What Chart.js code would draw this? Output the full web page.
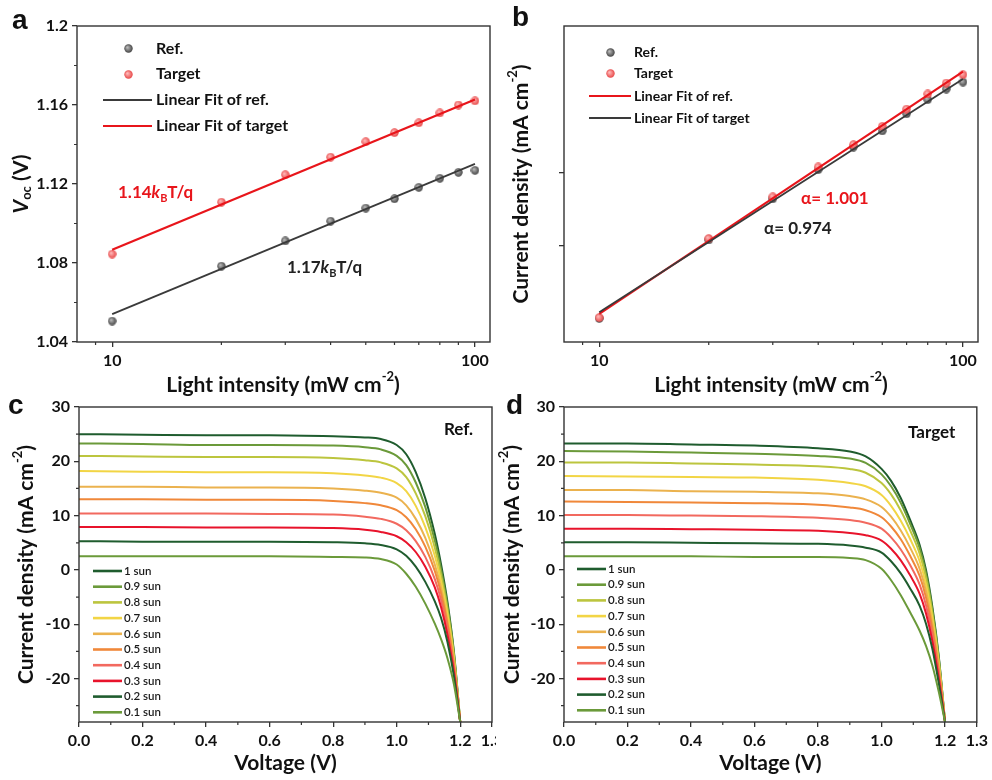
<!DOCTYPE html>
<html>
<head>
<meta charset="utf-8">
<script src="https://cdn.jsdelivr.net/npm/chart.js@4.4.0/dist/chart.umd.min.js"></script>
<style>
body { margin: 0; background: #fff; width: 992px; height: 780px; position: relative; overflow: hidden; }
.box { position: absolute; overflow: hidden; }
canvas { display: block; }
</style>
</head>
<body>
<div class="box" style="left:0;top:0;width:496px;height:400px"><canvas id="ca" width="496" height="400"></canvas></div>
<div class="box" style="left:496px;top:0;width:496px;height:400px"><canvas id="cb" width="496" height="400"></canvas></div>
<div class="box" style="left:0;top:390px;width:496px;height:390px"><canvas id="cc" width="512" height="390"></canvas></div>
<div class="box" style="left:496px;top:390px;width:496px;height:390px"><canvas id="cd" width="496" height="390"></canvas></div>
<script>
// panel a / b data (light intensity in mW cm-2)
const intensity = [10, 20, 30, 40, 50, 60, 70, 80, 90, 100];
const vocRef = [1.0506, 1.0784, 1.0912, 1.1012, 1.1078, 1.1125, 1.1183, 1.1229, 1.1259, 1.1269];
const vocTarget = [1.0845, 1.1108, 1.1247, 1.1336, 1.1414, 1.1460, 1.1510, 1.1560, 1.1600, 1.1621];
const fitX = [10, 100];
const vocFitRef = [1.0541, 1.1302];
const vocFitTarget = [1.0867, 1.1628];
const jscRef = [2.50, 5.26, 7.77, 10.25, 12.7, 14.8, 17.4, 19.9, 22.0, 23.5];
const jscTarget = [2.52, 5.33, 7.92, 10.52, 12.99, 15.45, 18.2, 21.0, 23.3, 25.2];
const jscFitRed = [2.61, 25.97];
const jscFitGray = [2.65, 24.2];

// panel c / d: J-V curves
const sunLabels = ['1 sun', '0.9 sun', '0.8 sun', '0.7 sun', '0.6 sun', '0.5 sun', '0.4 sun', '0.3 sun', '0.2 sun', '0.1 sun'];
const voltage = [0, 0.2, 0.4, 0.6, 0.8, 0.9, 0.95, 1.0, 1.03, 1.06, 1.09, 1.12, 1.14, 1.16, 1.18, 1.2];
const refCurves = [
  [25.0, 24.9, 24.8, 24.8, 24.6, 24.4, 24.1, 23.0, 21.3, 18.0, 13.2, 6.6, 0.9, -6.0, -15.0, -28],
  [23.3, 23.2, 23.0, 23.0, 22.9, 22.6, 22.2, 21.0, 19.3, 16.1, 11.6, 5.4, 0.0, -6.6, -15.3, -28],
  [21.0, 20.9, 20.8, 20.8, 20.6, 20.2, 19.8, 18.7, 17.1, 14.1, 9.9, 4.1, -1.0, -7.4, -15.8, -28],
  [18.2, 18.1, 18.0, 18.0, 17.8, 17.4, 17.0, 16.0, 14.5, 11.8, 7.9, 2.6, -2.2, -8.3, -16.3, -28],
  [15.3, 15.3, 15.2, 15.2, 15.0, 14.6, 14.2, 13.3, 11.9, 9.4, 5.9, 1.0, -3.4, -9.3, -16.9, -28],
  [13.0, 13.0, 12.9, 12.9, 12.7, 12.3, 11.9, 11.0, 9.7, 7.5, 4.3, -0.2, -4.4, -10.0, -17.4, -28],
  [10.4, 10.4, 10.4, 10.3, 10.2, 9.8, 9.4, 8.5, 7.3, 5.3, 2.4, -1.7, -5.6, -11.0, -18.0, -28],
  [7.9, 7.9, 7.8, 7.8, 7.7, 7.4, 7.0, 6.2, 5.1, 3.3, 0.6, -3.2, -6.9, -12.0, -18.7, -28],
  [5.3, 5.2, 5.2, 5.2, 5.1, 4.9, 4.6, 3.8, 2.6, 0.6, -2.2, -5.8, -8.9, -13.3, -19.5, -28],
  [2.5, 2.5, 2.5, 2.5, 2.4, 2.3, 2.0, 1.0, -0.7, -3.1, -6.2, -9.9, -12.8, -16.3, -21.0, -28]
];
const targetCurves = [
  [23.3, 23.3, 23.1, 22.9, 22.4, 21.8, 20.9, 18.6, 16.4, 13.3, 9.2, 4.6, 0.0, -6.8, -15.8, -28],
  [21.9, 21.8, 21.6, 21.4, 21.0, 20.5, 19.7, 17.6, 15.4, 12.4, 8.5, 4.0, -0.6, -7.3, -16.1, -28],
  [19.8, 19.8, 19.6, 19.4, 19.1, 18.6, 17.9, 16.0, 13.9, 11.0, 7.3, 3.0, -1.5, -8.0, -16.6, -28],
  [17.3, 17.2, 17.1, 17.0, 16.6, 16.0, 15.4, 13.8, 11.8, 9.1, 5.7, 1.6, -2.7, -8.9, -17.2, -28],
  [14.7, 14.7, 14.5, 14.4, 14.1, 13.6, 13.0, 11.6, 9.8, 7.3, 4.1, 0.2, -3.9, -9.9, -17.8, -28],
  [12.6, 12.5, 12.4, 12.3, 12.0, 11.5, 11.0, 9.7, 8.0, 5.7, 2.6, -1.1, -5.1, -10.8, -18.4, -28],
  [10.1, 10.1, 10.0, 9.9, 9.6, 9.2, 8.7, 7.6, 6.0, 3.8, 0.9, -2.7, -6.5, -11.9, -19.1, -28],
  [7.6, 7.6, 7.5, 7.4, 7.2, 6.8, 6.4, 5.4, 3.9, 1.8, -1.0, -4.4, -8.0, -13.1, -19.9, -28],
  [5.1, 5.1, 5.0, 4.9, 4.8, 4.5, 4.1, 3.2, 1.6, -0.6, -3.4, -6.6, -9.9, -14.5, -20.8, -28],
  [2.5, 2.5, 2.5, 2.4, 2.4, 2.2, 1.8, 0.2, -1.9, -4.6, -7.8, -11.2, -14.0, -17.6, -22.4, -28]
];
const sunColors = ['#1f5c2e', '#6b9a3a', '#bcc53e', '#f2d545', '#ebb24e', '#f0883a', '#f2695f', '#e8132b', '#1f5c2e', '#6b9a3a'];

const FONT = 'Lato';
const INK = '#111';

function zip(xs, ys) { return xs.map((x, i) => ({ x: x, y: ys[i] })); }

// little shaded balls like the origin markers
function ball(color, light) {
  const c = document.createElement('canvas');
  c.width = c.height = 9;
  const g = c.getContext('2d');
  const grd = g.createRadialGradient(3.3, 3.3, 0.4, 4.5, 4.5, 4.6);
  grd.addColorStop(0, light);
  grd.addColorStop(1, color);
  g.fillStyle = grd;
  g.beginPath(); g.arc(4.5, 4.5, 4.2, 0, Math.PI * 2); g.fill();
  return c;
}
const grayBall = ball('#3c3c3c', '#b8b8b8');
const redBall = ball('#e64040', '#ffb8b8');

// text with sub / superscripts; parts = [{t, s:'sub'|'sup', i:italic}]
function rich(ctx, parts, x, y, size, color, rotate, align) {
  ctx.save();
  ctx.translate(x, y);
  if (rotate) ctx.rotate(-Math.PI / 2);
  ctx.fillStyle = color;
  ctx.textBaseline = 'middle';
  ctx.textAlign = 'left';
  const fontFor = p => (p.i ? 'italic ' : '') + 'bold ' + (p.s ? Math.round(size * 0.62) : size) + 'px ' + FONT;
  let w = 0;
  parts.forEach(p => { ctx.font = fontFor(p); w += ctx.measureText(p.t).width; });
  let cx = align === 'left' ? 0 : -w / 2;
  parts.forEach(p => {
    ctx.font = fontFor(p);
    const dy = p.s === 'sub' ? size * 0.3 : (p.s === 'sup' ? -size * 0.38 : 0);
    ctx.fillText(p.t, cx, dy);
    cx += ctx.measureText(p.t).width;
  });
  ctx.restore();
}

function text(ctx, t, x, y, font, color, align) {
  ctx.save();
  ctx.font = font;
  ctx.fillStyle = color;
  ctx.textAlign = align || 'left';
  ctx.textBaseline = 'middle';
  ctx.fillText(t, x, y);
  ctx.restore();
}

// frame round the plot + minor ticks
function frame(minorX, minorY) {
  return {
    id: 'frame',
    afterDraw(chart) {
      const { ctx, chartArea: a, scales } = chart;
      ctx.save();
      ctx.strokeStyle = '#333';
      ctx.lineWidth = 1.4;
      ctx.strokeRect(a.left, a.top, a.right - a.left, a.bottom - a.top);
      ctx.lineWidth = 1.2;
      ctx.beginPath();
      minorX.forEach(v => {
        const px = scales.x.getPixelForValue(v);
        ctx.moveTo(px, a.bottom); ctx.lineTo(px, a.bottom + 3);
      });
      minorY.forEach(v => {
        const py = scales.y.getPixelForValue(v);
        ctx.moveTo(a.left, py); ctx.lineTo(a.left - 3, py);
      });
      ctx.stroke();
      ctx.restore();
    }
  };
}

const gridOpts = { display: true, drawOnChartArea: false, drawTicks: true, tickLength: 5, color: '#333', lineWidth: 1.3 };
const tickFont = { family: FONT, size: 16, weight: 'bold' };

function axis(extra) {
  return Object.assign({
    grid: gridOpts,
    border: { display: false },
    ticks: { font: tickFont, color: INK, autoSkip: false, maxRotation: 0, padding: 4 }
  }, extra);
}
function fixTicks(vals) { return s => { s.ticks = vals.map(v => ({ value: v })); }; }

const baseOpts = {
  responsive: false,
  animation: false,
  events: [],
  plugins: { legend: { display: false }, tooltip: { enabled: false } }
};

const titleX = [{ t: 'Light intensity (mW cm' }, { t: '-2', s: 'sup' }, { t: ')' }];
const titleJ = [{ t: 'Current density (mA cm' }, { t: '-2', s: 'sup' }, { t: ')' }];

// ---------- panel a ----------
new Chart(document.getElementById('ca'), {
  type: 'scatter',
  data: {
    datasets: [
      { data: zip(fitX, vocFitRef), showLine: true, borderColor: '#3a3a3a', borderWidth: 1.8, pointRadius: 0 },
      { data: zip(fitX, vocFitTarget), showLine: true, borderColor: '#e8151b', borderWidth: 2.2, pointRadius: 0 },
      { data: zip(intensity, vocRef), pointStyle: grayBall },
      { data: zip(intensity, vocTarget), pointStyle: redBall }
    ]
  },
  options: Object.assign({}, baseOpts, {
    layout: { padding: { top: 26, right: 6, left: 0, bottom: 0 } },
    scales: {
      x: axis({ type: 'logarithmic', min: 8, max: 110, afterBuildTicks: fixTicks([10, 100]),
        ticks: Object.assign({}, axis().ticks, { callback: v => String(v) }),
        afterFit: s => { s.height = 58; } }),
      y: axis({ min: 1.04, max: 1.2, afterBuildTicks: fixTicks([1.04, 1.08, 1.12, 1.16, 1.2]),
        ticks: Object.assign({}, axis().ticks, { callback: v => String(+v.toFixed(2)) }),
        afterFit: s => { s.width = 77; } })
    }
  }),
  plugins: [frame([9, 20, 30, 40, 50, 60, 70, 80, 90], [1.06, 1.10, 1.14, 1.18]), {
    id: 'decoA',
    afterDraw(chart) {
      const ctx = chart.ctx;
      text(ctx, 'a', 12, 21, 'bold 28px "Liberation Sans"', INK);
      rich(ctx, [{ t: 'V', i: true }, { t: 'oc', s: 'sub' }, { t: ' (V)' }], 21, 184, 21, INK, true);
      rich(ctx, titleX, 283, 385, 21, INK);
      // legend
      ctx.drawImage(grayBall, 124, 44);
      ctx.drawImage(redBall, 124, 70);
      ctx.save();
      ctx.lineWidth = 1.8; ctx.strokeStyle = '#3a3a3a';
      ctx.beginPath(); ctx.moveTo(103, 100); ctx.lineTo(152, 100); ctx.stroke();
      ctx.lineWidth = 2.2; ctx.strokeStyle = '#e8151b';
      ctx.beginPath(); ctx.moveTo(103, 126); ctx.lineTo(152, 126); ctx.stroke();
      ctx.restore();
      const lf = 'bold 16px ' + FONT;
      text(ctx, 'Ref.', 156, 49, lf, INK);
      text(ctx, 'Target', 156, 74, lf, INK);
      text(ctx, 'Linear Fit of ref.', 156, 100, lf, INK);
      text(ctx, 'Linear Fit of target', 156, 126, lf, INK);
      // slopes
      rich(ctx, [{ t: '1.14' }, { t: 'k', i: true }, { t: 'B', s: 'sub' }, { t: 'T/q' }], 118, 193, 17, '#e8151b', false, 'left');
      rich(ctx, [{ t: '1.17' }, { t: 'k', i: true }, { t: 'B', s: 'sub' }, { t: 'T/q' }], 287, 268, 17, '#222', false, 'left');
    }
  }]
});

// ---------- panel b ----------
new Chart(document.getElementById('cb'), {
  type: 'scatter',
  data: {
    datasets: [
      { data: zip(fitX, jscFitGray), showLine: true, borderColor: '#3a3a3a', borderWidth: 1.8, pointRadius: 0 },
      { data: zip(fitX, jscFitRed), showLine: true, borderColor: '#e8151b', borderWidth: 2.2, pointRadius: 0 },
      { data: zip(intensity, jscTarget), pointStyle: redBall },
      { data: zip(intensity, jscRef), pointStyle: grayBall }
    ]
  },
  options: Object.assign({}, baseOpts, {
    layout: { padding: { top: 26, right: 14, left: 0, bottom: 0 } },
    scales: {
      x: axis({ type: 'logarithmic', min: 8, max: 110, afterBuildTicks: fixTicks([10, 100]),
        ticks: Object.assign({}, axis().ticks, { callback: v => String(v) }),
        afterFit: s => { s.height = 58; } }),
      y: axis({ type: 'logarithmic', min: 2, max: 40, afterBuildTicks: fixTicks([5, 10]),
        ticks: Object.assign({}, axis().ticks, { display: false }),
        afterFit: s => { s.width = 68; } })
    }
  }),
  plugins: [frame([9, 20, 30, 40, 50, 60, 70, 80, 90], []), {
    id: 'decoB',
    afterDraw(chart) {
      const ctx = chart.ctx;
      text(ctx, 'b', 16, 18, 'bold 28px "Liberation Sans"', INK);
      rich(ctx, titleJ, 25, 184, 21, INK, true);
      rich(ctx, titleX, 275, 385, 21, INK);
      ctx.drawImage(grayBall, 110, 48);
      ctx.drawImage(redBall, 110, 69);
      ctx.save();
      ctx.lineWidth = 2.2; ctx.strokeStyle = '#e8151b';
      ctx.beginPath(); ctx.moveTo(93, 96); ctx.lineTo(135, 96); ctx.stroke();
      ctx.lineWidth = 1.8; ctx.strokeStyle = '#3a3a3a';
      ctx.beginPath(); ctx.moveTo(93, 118); ctx.lineTo(135, 118); ctx.stroke();
      ctx.restore();
      const lf = 'bold 14px ' + FONT;
      text(ctx, 'Ref.', 138, 52, lf, INK);
      text(ctx, 'Target', 138, 73, lf, INK);
      text(ctx, 'Linear Fit of ref.', 138, 96, lf, INK);
      text(ctx, 'Linear Fit of target', 138, 118, lf, INK);
      text(ctx, 'α= 1.001', 305, 199, 'bold 17px ' + FONT, '#e8151b');
      text(ctx, 'α= 0.974', 268, 229, 'bold 17px ' + FONT, '#222');
    }
  }]
});

// ---------- panels c and d ----------
function jvChart(id, curves, opts) {
  const sets = curves.map((c, i) => ({
    data: zip(voltage, c), showLine: true, pointRadius: 0,
    borderColor: sunColors[i], borderWidth: 2, cubicInterpolationMode: 'monotone'
  })).reverse();
  new Chart(document.getElementById(id), {
    type: 'scatter',
    data: { datasets: sets },
    options: Object.assign({}, baseOpts, {
      layout: { padding: { top: 17, right: opts.right, left: 0, bottom: 0 } },
      scales: {
        x: axis({ min: 0, max: 1.3, afterBuildTicks: fixTicks([0, 0.2, 0.4, 0.6, 0.8, 1.0, 1.2, 1.3]),
          ticks: Object.assign({}, axis().ticks, { callback: v => v.toFixed(1) }),
          afterFit: s => { s.height = 58; } }),
        y: axis({ min: -28, max: 30, afterBuildTicks: fixTicks([-20, -10, 0, 10, 20, 30]),
          ticks: Object.assign({}, axis().ticks, { callback: v => String(v) }),
          afterFit: s => { s.width = opts.left; } })
      }
    }),
    plugins: [frame([0.1, 0.3, 0.5, 0.7, 0.9, 1.1], [-25, -15, -5, 5, 15, 25]), {
      id: 'deco' + id,
      afterDraw(chart) {
        const ctx = chart.ctx;
        const a = chart.chartArea;
        text(ctx, opts.letter, opts.letterX, 16, 'bold 28px "Liberation Sans"', INK);
        rich(ctx, titleJ, opts.titleYX, (a.top + a.bottom) / 2, 21, INK, true);
        rich(ctx, [{ t: 'Voltage (V)' }], (a.left + a.right) / 2, 373, 21, INK);
        text(ctx, opts.tag, opts.tagX, opts.tagY, 'bold 17px ' + FONT, INK);
        ctx.save();
        ctx.lineWidth = 2.6;
        sunLabels.forEach((lab, i) => {
          const y = opts.legY + i * 15.7;
          ctx.strokeStyle = sunColors[i];
          ctx.beginPath(); ctx.moveTo(opts.legX, y); ctx.lineTo(opts.legX + 29, y); ctx.stroke();
          text(ctx, lab, opts.legX + 31, y, '600 11.5px ' + FONT, '#1a1a1a');
        });
        ctx.restore();
      }
    }]
  });
}

jvChart('cc', refCurves, { right: 20, left: 79, letter: 'c', letterX: 8, titleYX: 26, tag: 'Ref.', tagX: 444, tagY: 40, legX: 93, legY: 181 });
jvChart('cd', targetCurves, { right: 14, left: 68, letter: 'd', letterX: 10, titleYX: 16, tag: 'Target', tagX: 412, tagY: 43, legX: 81, legY: 179 });
</script>
</body>
</html>
